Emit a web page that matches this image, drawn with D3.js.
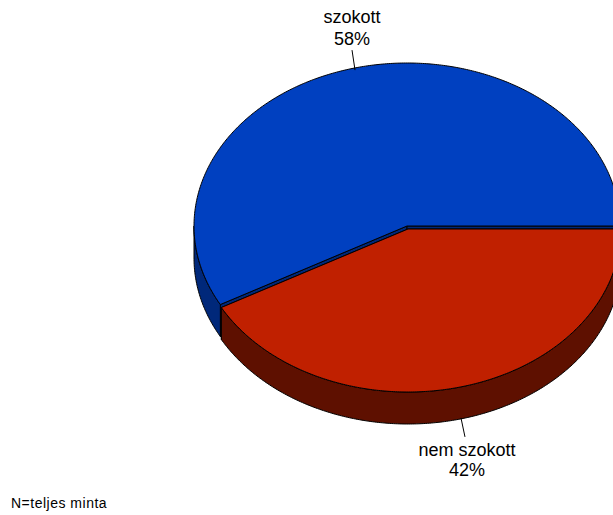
<!DOCTYPE html>
<html><head><meta charset="utf-8">
<script src="https://cdn.jsdelivr.net/npm/d3@7"></script>
<style>body{margin:0;background:#fff}svg{display:block}text{font-family:"Liberation Sans",Arial,sans-serif}</style>
</head><body>
<script>
const categories = ["szokott", "nem szokott"];
const values = [58, 42];
const labels = ["58%", "42%"];
const topColors = ["#0040C0", "#C02000"];
const sideColors = ["#00287A", "#5E1000"];
const note = "N=teljes minta";

const W = 613, H = 515;
const svg = d3.select("body").append("svg").attr("width", W).attr("height", H);

const rx = 213, ry = 163, depth = 32;
const centers = [[407, 226], [408, 229]];
const total = d3.sum(values);
const start = Math.PI / 2 - 2 * Math.PI * values[0] / total;
const pie = d3.pie().sort(null).startAngle(start).endAngle(start + 2 * Math.PI);
const arcs = pie(values);

const pt = (c, a, dy = 0) => [c[0] + rx * Math.sin(a), c[1] - ry * Math.cos(a) + dy];
const line = d3.line();
function arcPts(c, a0, a1, dy = 0) {
  const n = Math.max(2, Math.ceil(Math.abs(a1 - a0) / 0.01));
  return d3.range(n + 1).map(i => pt(c, a0 + (a1 - a0) * i / n, dy));
}
function frontRange(a0, a1) {
  const res = [];
  for (const k of [-1, 0, 1]) {
    const f0 = Math.PI / 2 + 2 * Math.PI * k, f1 = 3 * Math.PI / 2 + 2 * Math.PI * k;
    const s = Math.max(a0, f0), e = Math.min(a1, f1);
    if (e > s) res.push([s, e]);
  }
  return res;
}
const g = svg.append("g").attr("stroke", "#000").attr("stroke-width", 1).attr("stroke-linejoin", "round");

function drawWalls(i) {
  const d = arcs[i], c = centers[i];
  [d.startAngle, d.endAngle].forEach(a => {
    const p = pt(c, a);
    g.append("path").attr("fill", sideColors[i])
      .attr("d", line([c, p, [p[0], p[1] + depth], [c[0], c[1] + depth]]) + "Z");
  });
  frontRange(d.startAngle, d.endAngle).forEach(([s, e]) => {
    const top = arcPts(c, s, e), bot = arcPts(c, e, s, depth);
    g.append("path").attr("fill", sideColors[i]).attr("d", line(top.concat(bot)) + "Z");
  });
}
function drawTop(i) {
  const d = arcs[i], c = centers[i];
  g.append("path").attr("fill", topColors[i])
    .attr("d", line([c].concat(arcPts(c, d.startAngle, d.endAngle))) + "Z");
}
drawWalls(0);
drawWalls(1);
drawTop(0);
drawTop(1);

const labelCfg = [
  { lineEnd: [-3, -20], tx: -3, ty: [-47, -25] },
  { lineEnd: [4, 19], tx: 6, ty: [38, 58] }
];
arcs.forEach((d, i) => {
  const mid = (d.startAngle + d.endAngle) / 2;
  const front = -Math.cos(mid) > 0;
  const c = [408, 228];
  const p = pt(c, mid, front ? depth : 0);
  const cfg = labelCfg[i];
  const q = [p[0] + cfg.lineEnd[0], p[1] + cfg.lineEnd[1]];
  svg.append("line").attr("x1", p[0]).attr("y1", p[1]).attr("x2", q[0]).attr("y2", q[1])
    .attr("stroke", "#000").attr("stroke-width", 1);
  svg.append("text").attr("x", p[0] + cfg.tx).attr("y", p[1] + cfg.ty[0]).attr("text-anchor", "middle")
    .attr("font-size", 18).text(categories[i]);
  svg.append("text").attr("x", p[0] + cfg.tx).attr("y", p[1] + cfg.ty[1]).attr("text-anchor", "middle")
    .attr("font-size", 18).text(labels[i]);
});

svg.append("text").attr("x", 11).attr("y", 508).attr("font-size", 14).attr("letter-spacing", 0.5).text(note);
</script>
</body></html>
